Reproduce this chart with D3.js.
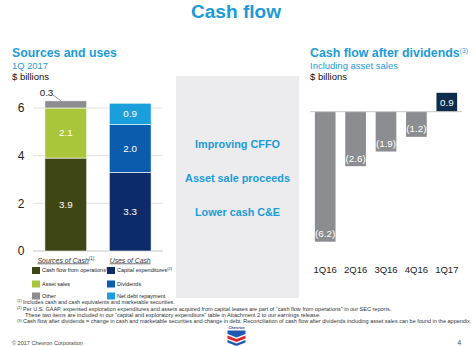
<!DOCTYPE html>
<html><head><meta charset="utf-8">
<script src="https://cdn.jsdelivr.net/npm/d3@7"></script>
<style>
body{margin:0;background:#fff;}
svg{display:block;font-family:"Liberation Sans",Arial,sans-serif;}
</style></head>
<body>
<script>
// ---- data ----
const leftCategories = ["Sources of Cash", "Uses of Cash"];
const sourcesNames = ["Cash flow from operations", "Asset sales", "Other"];
const sourcesValues = [3.9, 2.1, 0.3];
const usesNames = ["Capital expenditures", "Dividends", "Net debt repayment"];
const usesValues = [3.3, 2.0, 0.9];
const leftTicks = [0, 2, 4, 6];
const sourcesColors = ["#3e4713", "#a9c53b", "#8c8d91"];
const usesColors = ["#0d2b6b", "#0b5cac", "#1b9fdc"];

const quarters = ["1Q16", "2Q16", "3Q16", "4Q16", "1Q17"];
const cfadValues = [-6.2, -2.6, -1.9, -1.2, 0.9];

const panelItems = ["Improving CFFO", "Asset sale proceeds", "Lower cash C&E"];
const footnotes = [
  ["(1)", "Includes cash and cash equivalents and marketable securities."],
  ["(2)", "Per U.S. GAAP, expensed exploration expenditures and assets acquired from capital leases are part of \u201ccash flow from operations\u201d in our SEC reports."],
  ["", "These two items are included in our \u201ccapital and exploratory expenditure\u201d table in Attachment 2 to our earnings release."],
  ["(3)", "Cash flow after dividends = change in cash and marketable securities and change in debt. Reconciliation of cash flow after dividends including asset sales can be found in the appendix."]
];

const W = 474, H = 346;
const blue = "#1b9bd7";
const svg = d3.select("body").append("svg").attr("width", W).attr("height", H);

// scale a text's font size so its rendered width matches the target width
function fit(sel, w) {
  const n = sel.node();
  const fs = parseFloat(sel.attr("font-size"));
  const L = n.getComputedTextLength();
  if (L > 0) {
    const k = w / L;
    sel.attr("font-size", fs * k);
    sel.selectAll("tspan").each(function () {
      const s = d3.select(this);
      if (s.attr("font-size")) s.attr("font-size", parseFloat(s.attr("font-size")) * k);
      if (s.attr("dy")) s.attr("dy", parseFloat(s.attr("dy")) * k);
    });
  }
  return sel;
}

// title
fit(svg.append("text").attr("x", 236).attr("y", 18).attr("text-anchor", "middle")
  .attr("font-size", 20).attr("font-weight", "bold").attr("fill", blue).text("Cash flow"), 90);

// left headings
fit(svg.append("text").attr("x", 12).attr("y", 57).attr("font-size", 13).attr("font-weight", "bold").attr("fill", blue).text("Sources and uses"), 105);
fit(svg.append("text").attr("x", 12).attr("y", 68.5).attr("font-size", 10).attr("fill", blue).text("1Q 2017"), 36);
fit(svg.append("text").attr("x", 12).attr("y", 80).attr("font-size", 10).attr("fill", "#111").text("$ billions"), 37);

// middle panel
svg.append("rect").attr("x", 176).attr("y", 76).attr("width", 123).attr("height", 222).attr("fill", "#ececef");
const panelY = [144.5, 178, 212];
const panelW = [85, 105, 85];
panelItems.forEach((t, i) => {
  fit(svg.append("text").attr("x", 237.5).attr("y", panelY[i]).attr("dy", "0.35em").attr("text-anchor", "middle")
    .attr("font-size", 11).attr("font-weight", "bold").attr("fill", blue).text(t), panelW[i]);
});

// ---- left chart ----
const yL = d3.scaleLinear().domain([0, 6]).range([251, 108]);
const xL = d3.scaleBand().domain(leftCategories).range([33, 163]).paddingInner(0.35).paddingOuter(0.185);

const gGrid = svg.append("g");
leftTicks.forEach(t => {
  gGrid.append("line").attr("x1", 33).attr("x2", 163).attr("y1", yL(t)).attr("y2", yL(t))
    .attr("stroke", t === 0 ? "#c8c8c8" : "#e2e2e2").attr("stroke-width", 1);
});
const axisL = d3.axisLeft(yL).tickValues(leftTicks).tickSize(0).tickPadding(0).tickFormat(d3.format("d"));
const gAx = svg.append("g").attr("transform", "translate(24.5,0)").call(axisL);
gAx.select(".domain").remove();
gAx.selectAll("text").attr("font-size", 12).attr("fill", "#222").attr("font-family", "Liberation Sans, Arial, sans-serif");

function stackBar(cat, vals, colors) {
  let cum = 0;
  vals.forEach((v, i) => {
    const y0 = yL(cum), y1 = yL(cum + v);
    svg.append("rect").attr("x", xL(cat)).attr("width", xL.bandwidth())
      .attr("y", y1).attr("height", y0 - y1).attr("fill", colors[i])
      .attr("stroke", "#fff").attr("stroke-width", 0.6);
    if (v >= 0.5) {
      svg.append("text").attr("x", xL(cat) + xL.bandwidth() / 2).attr("y", (y0 + y1) / 2).attr("dy", "0.35em")
        .attr("text-anchor", "middle").attr("font-size", 9.8).attr("fill", "#fff").text(v.toFixed(1));
    }
    cum += v;
  });
}
stackBar(leftCategories[0], sourcesValues, sourcesColors);
stackBar(leftCategories[1], usesValues, usesColors);

// 0.3 callout
const topSrc = yL(d3.sum(sourcesValues));
svg.append("text").attr("x", 46.5).attr("y", 96).attr("text-anchor", "middle").attr("font-size", 9.8).attr("fill", "#222").text(sourcesValues[2].toFixed(1));
svg.append("line").attr("x1", 53).attr("y1", 95).attr("x2", 61).attr("y2", topSrc).attr("stroke", "#666").attr("stroke-width", 0.7);

// category labels
const catLbl = [["Sources of Cash", "(1)"], ["Uses of Cash", ""]];
const catW = [57, 41];
leftCategories.forEach((c, i) => {
  const t = svg.append("text").attr("x", xL(c) + xL.bandwidth() / 2).attr("y", 262.5).attr("text-anchor", "middle")
    .attr("font-size", 7).attr("font-style", "italic").attr("fill", "#333");
  t.append("tspan").attr("text-decoration", "underline").text(catLbl[i][0]);
  if (catLbl[i][1]) t.append("tspan").attr("font-size", 4.5).attr("dy", -2.5).text(catLbl[i][1]);
  fit(t, catW[i]);
});

// legend
const legRows = [270.5, 284, 296];
const legend = [
  {x: 32, names: sourcesNames, colors: sourcesColors, sup: ["(2)", "", ""]},
  {x: 107, names: usesNames, colors: usesColors, sup: ["(2)", "", ""]}
];
legend.forEach(col => {
  col.names.forEach((n, i) => {
    svg.append("rect").attr("x", col.x).attr("y", legRows[i] - 3.5).attr("width", 8).attr("height", 7).attr("fill", col.colors[i]);
    const t = svg.append("text").attr("x", col.x + 10).attr("y", legRows[i]).attr("dy", "0.35em")
      .attr("font-size", 5.5).attr("fill", "#222").text(n);
    if (col.sup[i]) t.append("tspan").attr("font-size", 4).attr("dy", -2.5).text(col.sup[i]);
  });
});

// ---- right chart ----
const rx = 310;
const t1 = svg.append("text").attr("x", rx).attr("y", 57).attr("font-size", 13).attr("font-weight", "bold").attr("fill", blue).text("Cash flow after dividends");
t1.append("tspan").attr("font-size", 7).attr("font-weight", "normal").attr("dy", -4.5).text("(3)");
fit(t1, 158);
fit(svg.append("text").attr("x", rx).attr("y", 68.5).attr("font-size", 10).attr("fill", blue).text("Including asset sales"), 88);
fit(svg.append("text").attr("x", rx).attr("y", 80).attr("font-size", 10).attr("fill", "#111").text("$ billions"), 37);

const yR = d3.scaleLinear().domain([-6.2, 0.9]).range([241.7, 92.8]);
const xR = d3.scaleBand().domain(quarters).range([310, 462]).paddingInner(0.32).paddingOuter(0.16);

quarters.forEach((q, i) => {
  const v = cfadValues[i];
  const y0 = yR(0), y1 = yR(v);
  svg.append("rect").attr("x", xR(q)).attr("width", xR.bandwidth())
    .attr("y", Math.min(y0, y1)).attr("height", Math.abs(y1 - y0))
    .attr("fill", v < 0 ? "#8c8d90" : "#0e2c4c");
  const ly = v < 0 ? y1 - 8 : (y0 + y1) / 2;
  svg.append("text").attr("x", xR(q) + xR.bandwidth() / 2).attr("y", ly).attr("dy", "0.35em")
    .attr("text-anchor", "middle").attr("font-size", 9.8).attr("fill", "#fff")
    .text(v < 0 ? "(" + Math.abs(v).toFixed(1) + ")" : v.toFixed(1));
});
svg.append("line").attr("x1", 310).attr("x2", 462).attr("y1", yR(0)).attr("y2", yR(0)).attr("stroke", "#c8c8c8").attr("stroke-width", 1);

const axisR = d3.axisBottom(xR).tickSize(0).tickPadding(0);
const gAxR = svg.append("g").attr("transform", "translate(0,266.5)").call(axisR);
gAxR.select(".domain").remove();
gAxR.selectAll("text").attr("font-size", 9.5).attr("fill", "#222").attr("font-family", "Liberation Sans, Arial, sans-serif");

// footnotes
const fnY = [303.5, 310.5, 316.8, 323];
const fnX = [23, 23, 25, 23];
const fnW = [152, 369, 296, 450];
footnotes.forEach((f, i) => {
  if (f[0]) svg.append("text").attr("x", 17).attr("y", fnY[i] - 1.5).attr("font-size", 3.8).attr("fill", "#333").text(f[0]);
  fit(svg.append("text").attr("x", fnX[i]).attr("y", fnY[i]).attr("font-size", 5.5).attr("fill", "#333").text(f[1]), fnW[i]);
});

// footer
fit(svg.append("text").attr("x", 12).attr("y", 345).attr("font-size", 6).attr("fill", "#444").text("\u00a9 2017 Chevron Corporation"), 71);
svg.append("text").attr("x", 457.5).attr("y", 345).attr("font-size", 6.5).attr("fill", "#444").text("4");

// Chevron logo
const lg = svg.append("g").attr("transform", "translate(236.5,0)");
lg.append("text").attr("x", 0).attr("y", 329).attr("text-anchor", "middle").attr("font-size", 4).attr("font-weight", "bold").attr("fill", "#1f4fa0").text("Chevron");
lg.append("path").attr("d", "M-9,330.5 L9,330.5 L9,334 L0,337.5 L-9,334 Z").attr("fill", "#1d59b0");
lg.append("path").attr("d", "M-9,335.5 L0,339 L9,335.5 L9,338.5 L0,342 L-9,338.5 Z").attr("fill", "#d9252e");
lg.append("path").attr("d", "M-9,340 L0,343.5 L9,340 L9,342.5 L0,346 L-9,342.5 Z").attr("fill", "#1d59b0");
</script>
</body></html>
